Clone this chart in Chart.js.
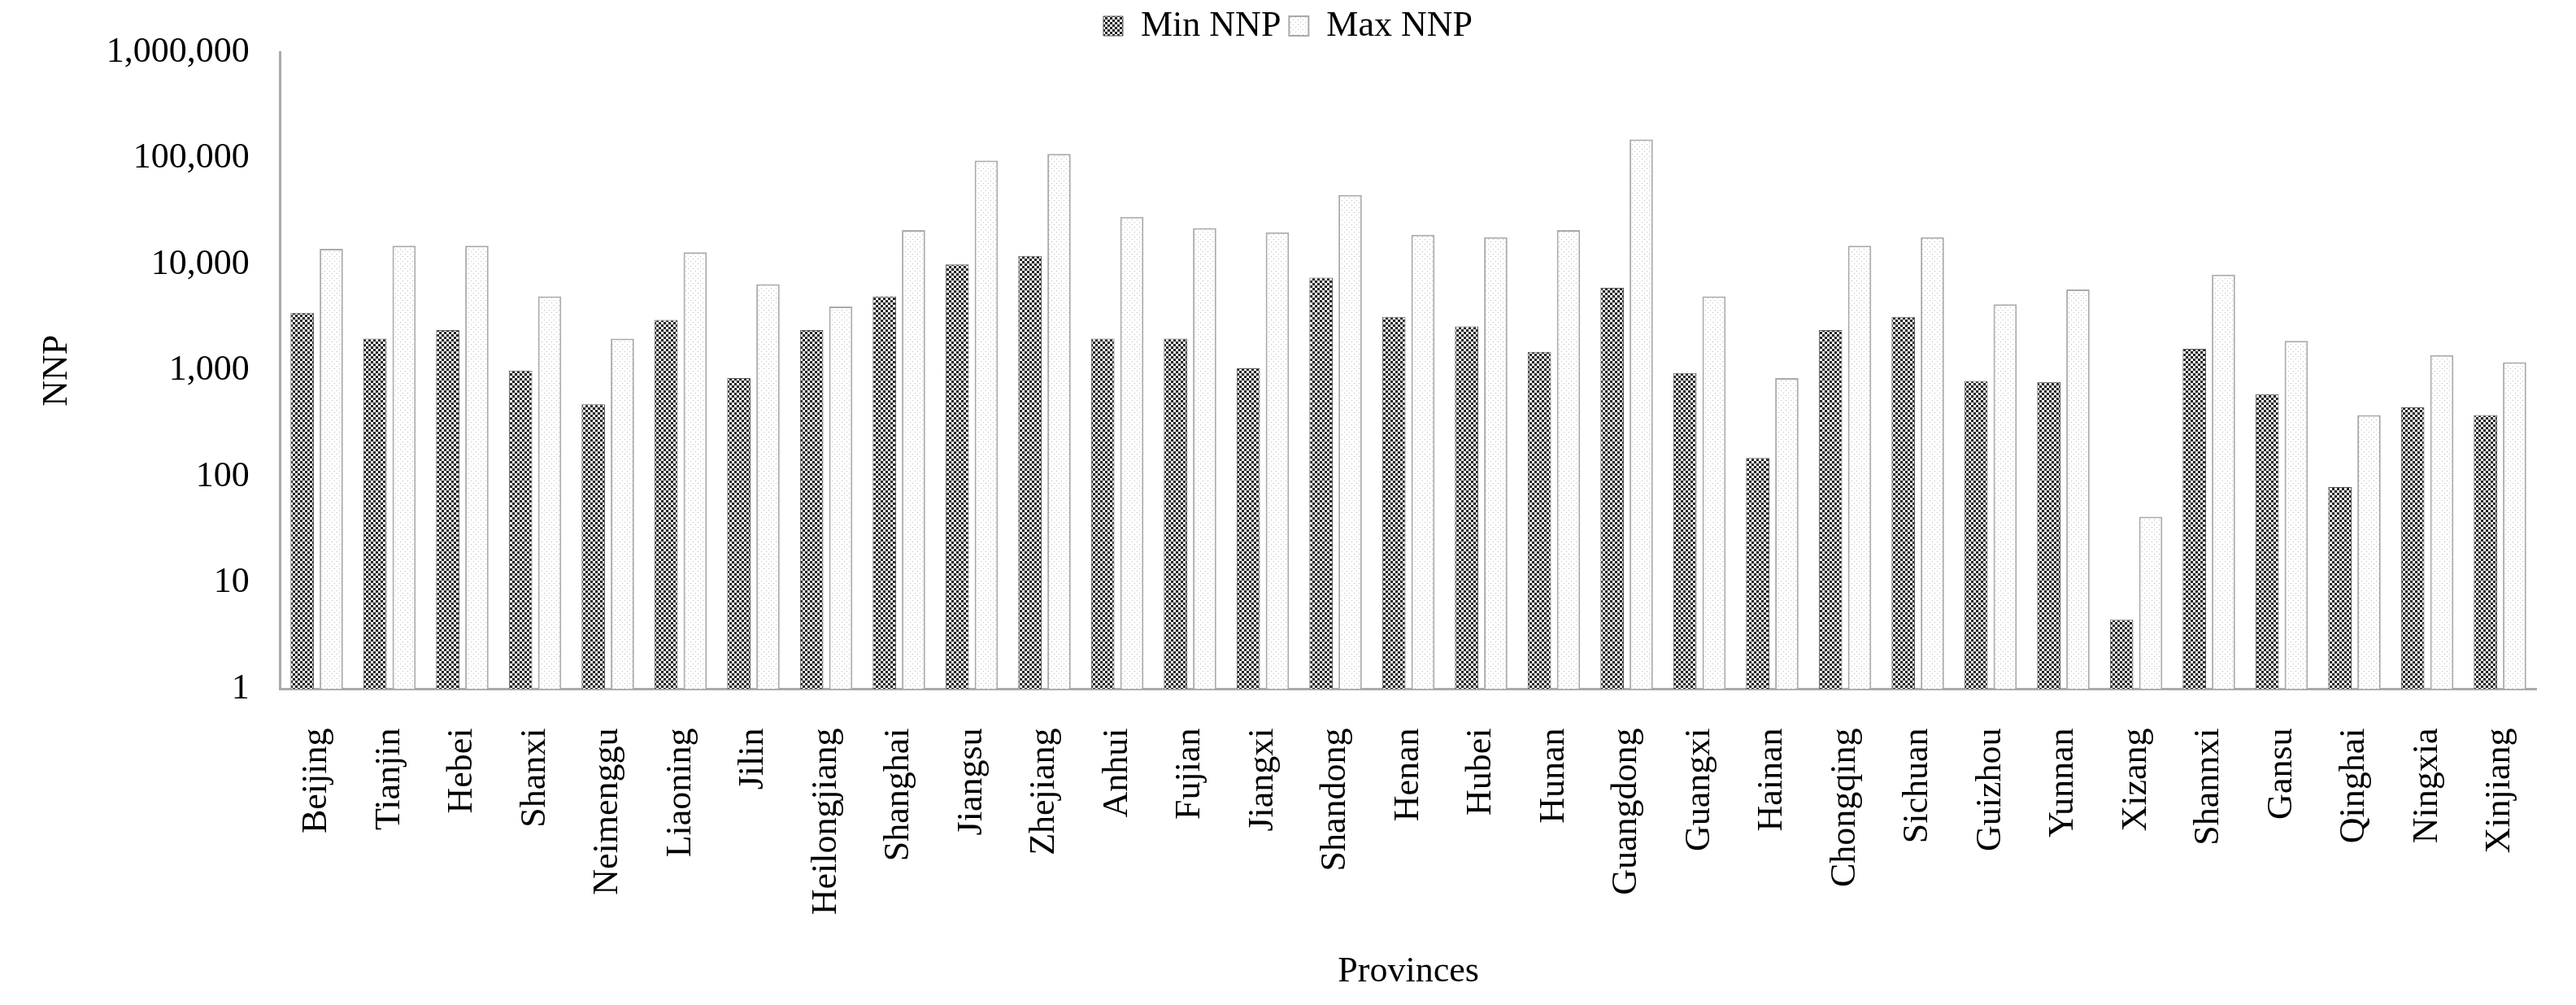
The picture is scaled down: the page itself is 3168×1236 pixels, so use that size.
<!DOCTYPE html>
<html lang="en">
<head>
    <meta charset="UTF-8">
    <title>NNP by province</title>
    <script src="https://cdn.jsdelivr.net/npm/chart.js@4.4.1/dist/chart.umd.min.js"></script>
    <style>
        body { margin: 0; background: #fff; }
        #chrt { display: block; }
    </style>
</head>
<body>
    <canvas id="chrt" width="3168" height="1236"></canvas>
    <script>
        const provinces = ['Beijing', 'Tianjin', 'Hebei', 'Shanxi', 'Neimenggu', 'Liaoning', 'Jilin', 'Heilongjiang',
            'Shanghai', 'Jiangsu', 'Zhejiang', 'Anhui', 'Fujian', 'Jiangxi', 'Shandong', 'Henan', 'Hubei', 'Hunan',
            'Guangdong', 'Guangxi', 'Hainan', 'Chongqing', 'Sichuan', 'Guizhou', 'Yunnan', 'Xizang', 'Shannxi',
            'Gansu', 'Qinghai', 'Ningxia', 'Xinjiang']
        const minNNP = [3500, 2000, 2400, 1000, 480, 3000, 850, 2400, 5000, 10000, 12000, 2000, 2000, 1050, 7500,
            3200, 2600, 1500, 6000, 950, 150, 2400, 3200, 800, 780, 4.5, 1600, 600, 80, 450, 380]
        const maxNNP = [14000, 15000, 15000, 5000, 2000, 13000, 6500, 4000, 21000, 95000, 110000, 28000, 22000,
            20000, 45000, 19000, 18000, 21000, 150000, 5000, 850, 15000, 18000, 4200, 5800, 42, 8000, 1900, 380,
            1400, 1200]
        const yTicks = [1, 10, 100, 1000, 10000, 100000, 1000000]

        let chrt = document.getElementById('chrt').getContext('2d')

        // dark checkered fill for min bars
        function checker() {
            let c = document.createElement('canvas')
            c.width = 6; c.height = 6
            let g = c.getContext('2d')
            g.fillStyle = '#fff'; g.fillRect(0, 0, 6, 6)
            g.fillStyle = '#222'
            g.fillRect(0, 0, 3, 3); g.fillRect(3, 3, 3, 3)
            return chrt.createPattern(c, 'repeat')
        }
        // sparse dots for max bars
        function dots() {
            let c = document.createElement('canvas')
            c.width = 6; c.height = 6
            let g = c.getContext('2d')
            g.fillStyle = '#fff'; g.fillRect(0, 0, 6, 6)
            g.fillStyle = '#bbb'
            g.fillRect(0, 0, 1, 1); g.fillRect(3, 3, 1, 1)
            return chrt.createPattern(c, 'repeat')
        }

        const font = { family: 'Liberation Serif', size: 44 }

        new Chart(chrt, {
            type: 'bar',
            data: {
                labels: provinces,
                datasets: [
                    { label: 'Min NNP', data: minNNP, backgroundColor: checker(), borderColor: '#555', borderWidth: 1 },
                    { label: 'Max NNP', data: maxNNP, backgroundColor: dots(), borderColor: '#aaa', borderWidth: 2 }
                ]
            },
            options: {
                responsive: false,
                devicePixelRatio: 1,
                animation: false,
                layout: { padding: { top: 0, right: 40, left: 40, bottom: 10 } },
                categoryPercentage: 0.8,
                barPercentage: 0.8,
                plugins: {
                    legend: {
                        labels: { font: font, color: '#000', boxWidth: 24, boxHeight: 24 }
                    },
                    tooltip: { enabled: false }
                },
                scales: {
                    x: {
                        grid: { display: false },
                        border: { color: '#aaa', width: 3 },
                        ticks: { font: font, color: '#000', maxRotation: 90, minRotation: 90, padding: 40 },
                        title: { display: true, text: 'Provinces', font: font, color: '#000' }
                    },
                    y: {
                        type: 'logarithmic',
                        min: 1,
                        max: 1000000,
                        grid: { display: false },
                        border: { color: '#aaa', width: 3 },
                        afterBuildTicks: axis => { axis.ticks = yTicks.map(v => ({ value: v })) },
                        ticks: { font: font, color: '#000', padding: 30, callback: v => v.toLocaleString('en-US') },
                        title: { display: true, text: 'NNP', font: font, color: '#000' }
                    }
                }
            }
        })
    </script>
</body>
</html>
